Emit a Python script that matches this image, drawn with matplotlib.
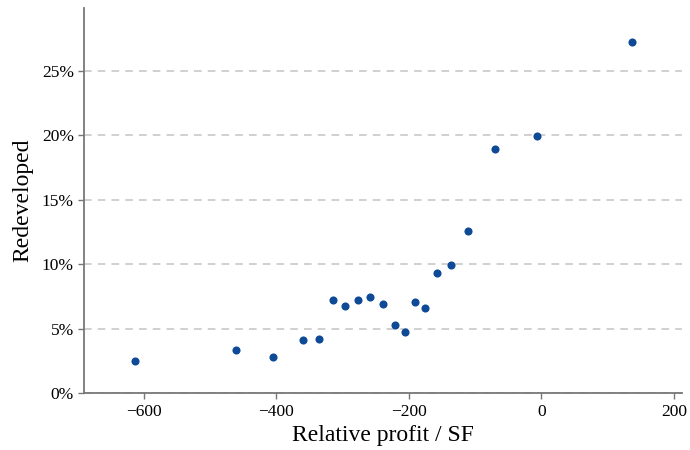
import matplotlib
matplotlib.use("Agg")
import matplotlib.pyplot as plt
from matplotlib.ticker import PercentFormatter

plt.rcParams['font.family'] = ['Liberation Serif', 'DejaVu Serif']

# relative profit per square foot vs. share redeveloped
profit = [-614, -461, -405, -360, -335, -315, -296, -277, -259, -239,
          -221, -205, -191, -175, -158, -137, -110, -70, -7, 137]
redeveloped = [0.0248, 0.0336, 0.0280, 0.0411, 0.0424, 0.0727, 0.0678, 0.0727,
               0.0745, 0.0693, 0.0533, 0.0473, 0.0709, 0.0665, 0.0934, 0.0991,
               0.1255, 0.1897, 0.1998, 0.2720]

fig = plt.figure(figsize=(6.9, 4.5), dpi=100)
ax = fig.add_axes([0.122, 0.126, 0.866, 0.857])

ax.scatter(profit, redeveloped, s=34, color='#0e4a96', zorder=3, linewidths=0)

ax.set_xlim(-690, 212)
ax.set_ylim(0, 0.299)
ax.set_xticks([-600, -400, -200, 0, 200])
ax.set_yticks([0, 0.05, 0.10, 0.15, 0.20, 0.25])
ax.yaxis.set_major_formatter(PercentFormatter(1.0, decimals=0))
ax.set_xticklabels(['\u2212600', '\u2212400', '\u2212200', '0', '200'])

ax.grid(axis='y', linestyle=(0, (5, 4)), color='#c4c4c4', linewidth=1.1)
ax.set_axisbelow(True)

for s in ['top', 'right']:
    ax.spines[s].set_visible(False)
for s in ['left', 'bottom']:
    ax.spines[s].set_color('#777777')
    ax.spines[s].set_linewidth(1.3)
ax.tick_params(colors='#777777', labelcolor='black', labelsize=12.5, length=4, width=1)

ax.set_xlabel('Relative profit / SF', fontsize=17, labelpad=4)
ax.set_ylabel('Redeveloped', fontsize=17, labelpad=6)

fig.savefig('out.png', dpi=100)
